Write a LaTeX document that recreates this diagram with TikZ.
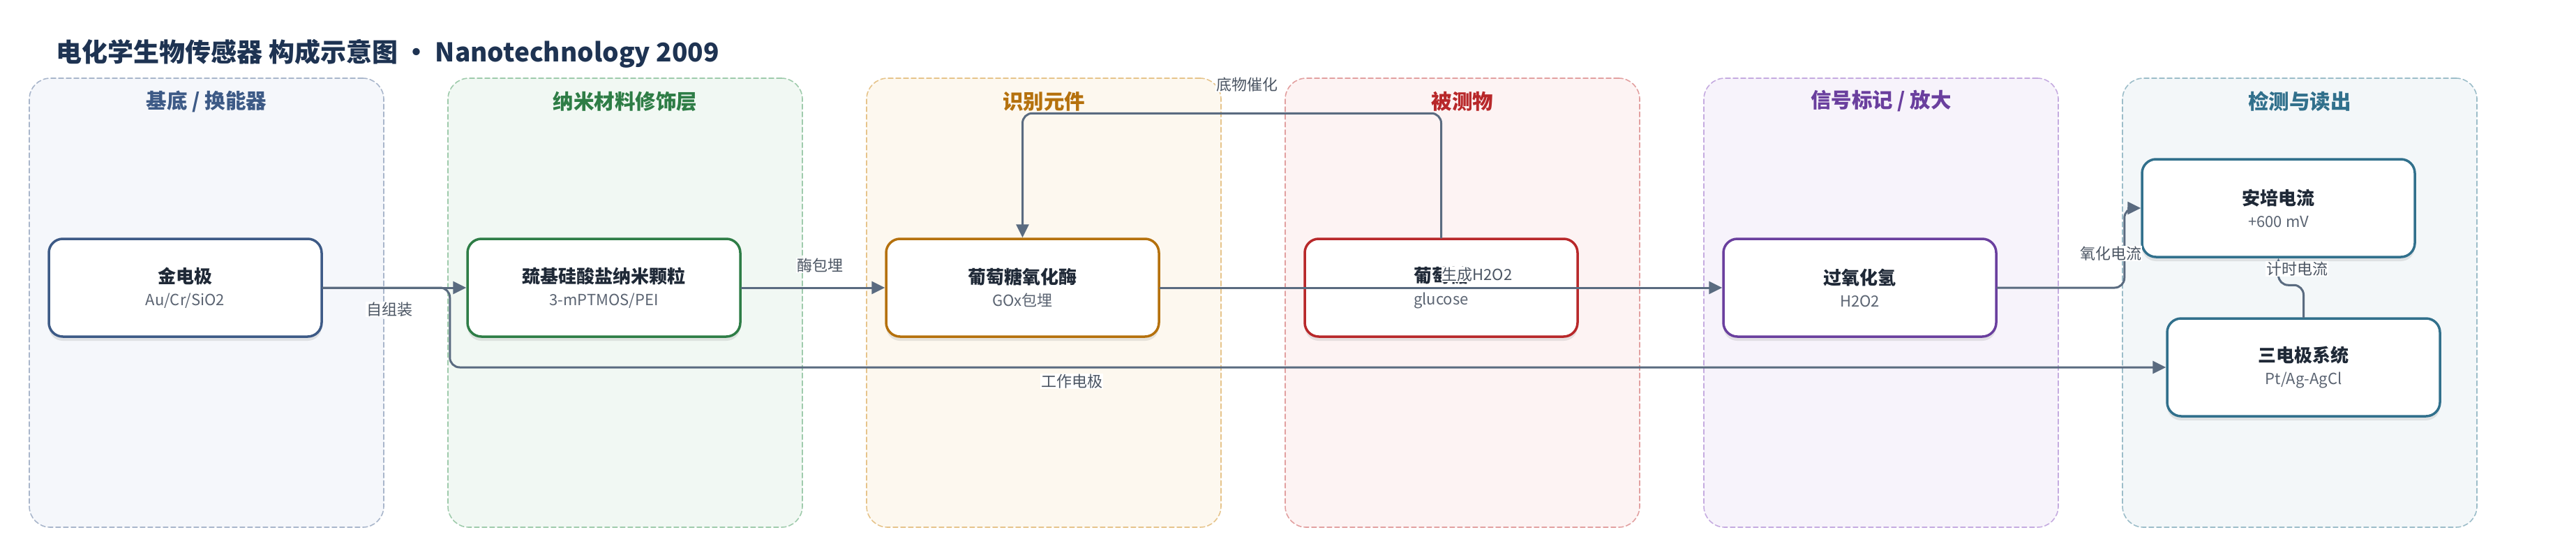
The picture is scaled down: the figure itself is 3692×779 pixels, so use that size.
\documentclass[tikz,border=0pt]{standalone}
\usepackage{fontspec}
\setmainfont{Noto Sans CJK SC}
\usetikzlibrary{arrows.meta,shadows}
\definecolor{titlec}{HTML}{1E3352}
\definecolor{ink}{HTML}{1F2937}
\definecolor{subc}{HTML}{5B6472}
\definecolor{lblc}{HTML}{4B5563}
\definecolor{edge}{HTML}{5A6B80}
% Gruppenfarben: Rand, Fläche, Titel
\definecolor{aD}{HTML}{A9B6CB}\definecolor{aF}{HTML}{F5F7FB}\definecolor{aT}{HTML}{3D5A86}
\definecolor{bD}{HTML}{9FCBAC}\definecolor{bF}{HTML}{F1F8F3}\definecolor{bT}{HTML}{2E7D46}
\definecolor{cD}{HTML}{E6C48B}\definecolor{cF}{HTML}{FDF8EF}\definecolor{cT}{HTML}{B5710D}
\definecolor{dD}{HTML}{E2A0A0}\definecolor{dF}{HTML}{FDF3F3}\definecolor{dT}{HTML}{B8282A}
\definecolor{eD}{HTML}{C5ABE0}\definecolor{eF}{HTML}{F7F3FB}\definecolor{eT}{HTML}{6A3F9E}
\definecolor{fD}{HTML}{9CBDC9}\definecolor{fF}{HTML}{F3F7F9}\definecolor{fT}{HTML}{31708C}
\newcommand{\bxt}[2]{{\bfseries\fontsize{26}{32}\selectfont\color{ink}#1}\\{\color{subc}#2}}
\begin{document}
\begin{tikzpicture}[x=1pt,y=-1pt, line join=round, line cap=round,
	grp/.style={draw, dash pattern=on 7pt off 4pt, line width=1.6pt, rounded corners=30pt, minimum width=508pt, minimum height=643pt},
	gtitle/.style={font=\bfseries\fontsize{29.5}{34}\selectfont},
	box/.style={draw, fill=white, line width=3.5pt, rounded corners=20pt, minimum width=391pt, minimum height=140pt, align=center, inner sep=0pt, font=\fontsize{22}{32}\selectfont, drop shadow={opacity=.18, shadow xshift=0pt, shadow yshift=-6pt}},
	flow/.style={draw=edge, line width=3pt, -{Triangle[length=19pt,width=18pt]}, rounded corners=14pt},
	lbl/.style={fill=white, text=lblc, inner sep=1pt, font=\fontsize{22}{26}\selectfont}]
	\def\ry{412} % Hauptzeile
	\useasboundingbox (0,0) rectangle (3692,779);
	\node[anchor=west, text=titlec, font=\bfseries\fontsize{37}{42}\selectfont] (title) at (77,77) {电化学生物传感器 构成示意图 · Nanotechnology 2009};
	\node[grp, draw=aD, fill=aF] (gBase) at (296,433.5) {};
	\node[grp, draw=bD, fill=bF] (gNano) at (896,433.5) {};
	\node[grp, draw=cD, fill=cF] (gRec) at (1496,433.5) {};
	\node[grp, draw=dD, fill=dF] (gAna) at (2096,433.5) {};
	\node[grp, draw=eD, fill=eF] (gSig) at (2696,433.5) {};
	\node[grp, draw=fD, fill=fF] (gDet) at (3296,433.5) {};
	\node[gtitle, text=aT] (tBase) at (296,145) {基底 / 换能器};
	\node[gtitle, text=bT] (tNano) at (896,145) {纳米材料修饰层};
	\node[gtitle, text=cT] (tRec) at (1496,145) {识别元件};
	\node[gtitle, text=dT] (tAna) at (2096,145) {被测物};
	\node[gtitle, text=eT] (tSig) at (2696,145) {信号标记 / 放大};
	\node[gtitle, text=fT] (tDet) at (3296,145) {检测与读出};
	\node[box, draw=aT] (jin) at (265.5,\ry) {\bxt{金电极}{Au/Cr/SiO2}};
	\node[box, draw=bT] (nano) at (865.5,\ry) {\bxt{巯基硅酸盐纳米颗粒}{3-mPTMOS/PEI}};
	\node[box, draw=cT] (gox) at (1465.5,\ry) {\bxt{葡萄糖氧化酶}{GOx包埋}};
	\node[box, draw=dT] (glu) at (2065.5,\ry) {\bxt{葡萄糖}{glucose}};
	\node[box, draw=eT] (hoo) at (2665.5,\ry) {\bxt{过氧化氢}{H2O2}};
	\node[box, draw=fT] (amp) at (3265.5,298) {\bxt{安培电流}{+600 mV}};
	\node[box, draw=fT] (tri) at (3301.5,526) {\bxt{三电极系统}{Pt/Ag-AgCl}};
	\draw[flow] (jin.east) -- (nano.west);
	\draw[flow] (jin.east) -- ++(182,0) |- (tri.west);
	\draw[flow] (nano.east) -- (gox.west);
	\draw[flow] (glu.north) -- ++(0,-178) -| (gox.north);
	\draw[flow] (gox.east) -- (hoo.west);
	\draw[flow] (hoo.east) -- ++(182,0) |- (amp.west);
	\draw[flow] (tri.north) -- ++(0,-46) -| (amp.south);
	\node[lbl] (lSelf) at (558,443) {自组装};
	\node[lbl] (lWork) at (1536,546) {工作电极};
	\node[lbl] (lEmb) at (1175,380) {酶包埋};
	\node[lbl] (lCat) at (1787,121) {底物催化};
	\node[lbl] (lGen) at (2117,393) {生成H2O2};
	\node[lbl] (lOx) at (3025,363) {氧化电流};
	\node[lbl] (lChr) at (3292,385) {计时电流};
\end{tikzpicture}
\end{document}
